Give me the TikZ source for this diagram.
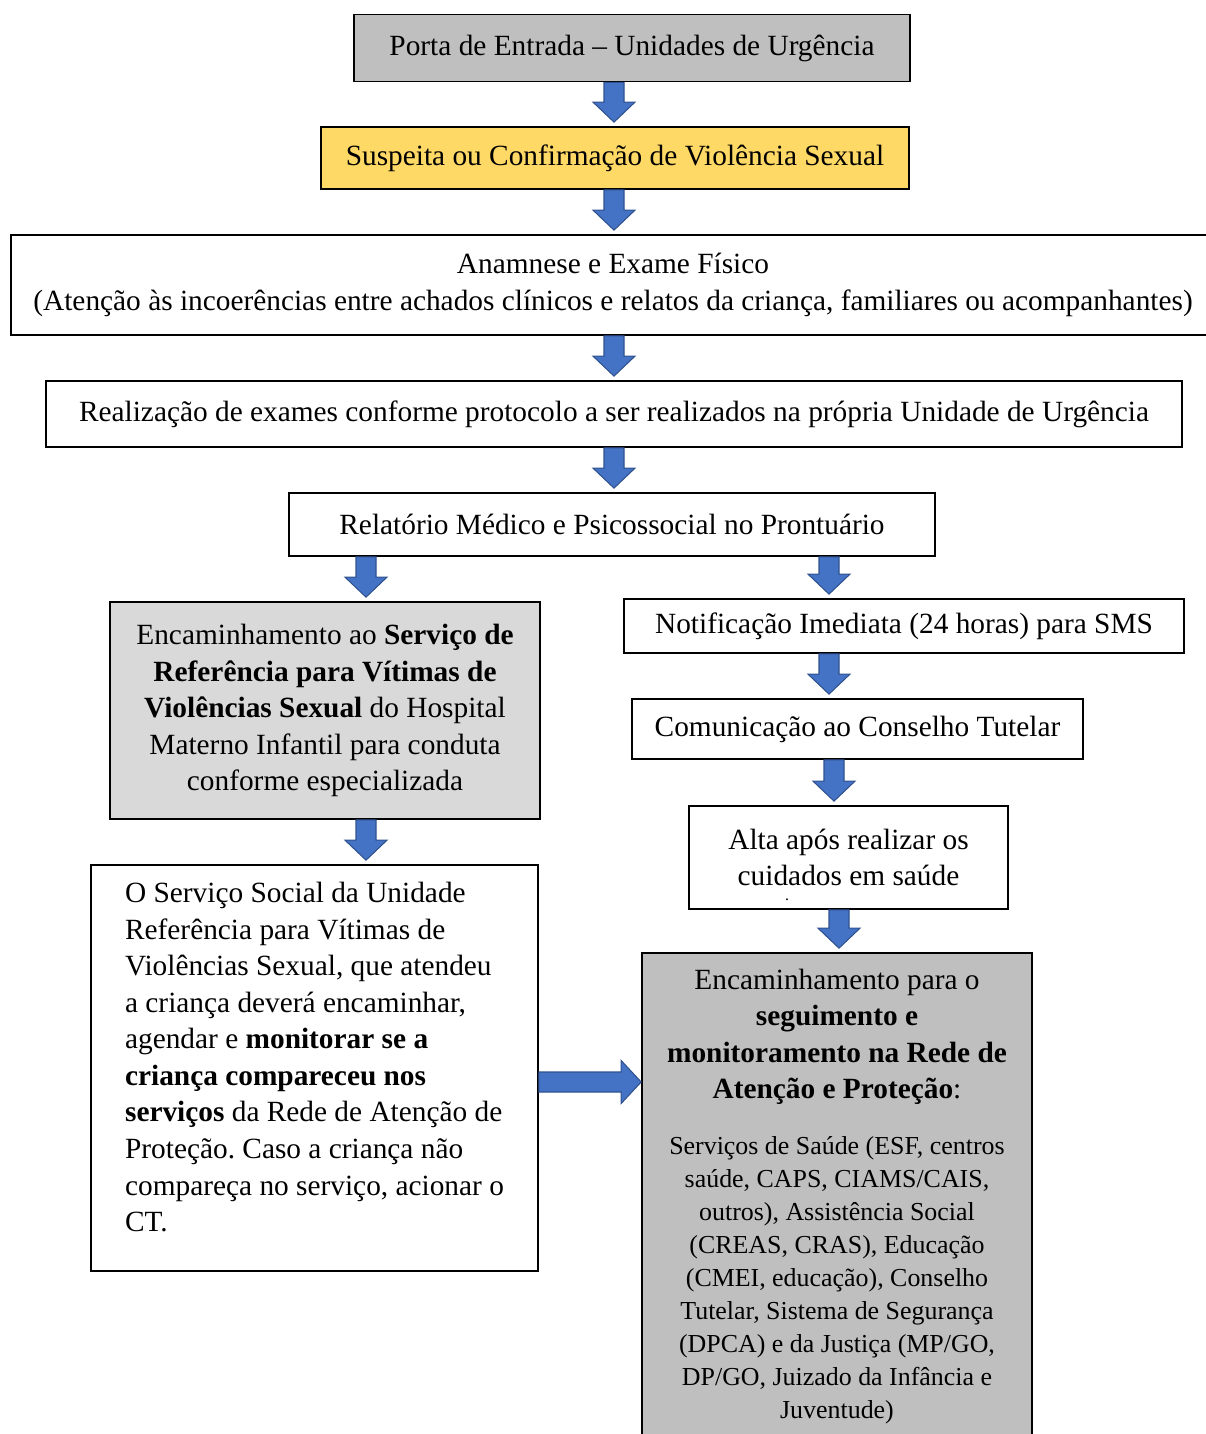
\documentclass[tikz,border=0pt]{standalone}
\usepackage{fontspec}
\setmainfont{Liberation Serif}
\usetikzlibrary{calc}

\definecolor{boxgray}{HTML}{BFBFBF}
\definecolor{boxlight}{HTML}{D9D9D9}
\definecolor{boxyellow}{HTML}{FFD966}
\definecolor{arrowblue}{HTML}{4472C4}
\definecolor{arrowedge}{HTML}{2F528F}

\newcommand{\mainsize}{\fontsize{16.7}{20.8}\selectfont\frenchspacing}
\newcommand{\smallsize}{\fontsize{14.75}{18.8}\selectfont\frenchspacing}

% block arrows between two points
\newcommand{\blkdown}[2]{%
  \filldraw[blkarrow] let \p1=(#1), \p2=(#2) in
    (\x1-0.2cm,\y1) -- (\x1-0.2cm,\y2+0.48cm) -- (\x1-0.42cm,\y2+0.48cm)
    -- (\x1,\y2+0.08cm) -- (\x1+0.42cm,\y2+0.48cm) -- (\x1+0.2cm,\y2+0.48cm)
    -- (\x1+0.2cm,\y1) -- cycle;}
\newcommand{\blkright}[2]{%
  \filldraw[blkarrow] let \p1=(#1), \p2=(#2) in
    (\x1,\y1-0.2cm) -- (\x2-0.4cm,\y1-0.2cm) -- (\x2-0.4cm,\y1-0.43cm)
    -- (\x2,\y1) -- (\x2-0.4cm,\y1+0.43cm) -- (\x2-0.4cm,\y1+0.2cm)
    -- (\x1,\y1+0.2cm) -- cycle;}

\begin{document}
\begin{tikzpicture}[x=0.02cm, y=-0.02cm,
    box/.style={draw, line width=1pt, inner sep=0pt, align=center, font=\mainsize},
    blkarrow/.style={fill=arrowblue, draw=arrowedge, line width=0.6pt, line join=miter}]
  \useasboundingbox (0,0) rectangle (1205,1434);

  % Main column
  \node[box, fill=boxgray, minimum width=11.12cm, minimum height=1.34cm] (porta) at (632,48)
    {Porta de Entrada – Unidades de Urgência};
  \node[box, fill=boxyellow, minimum width=11.76cm, minimum height=1.24cm] (susp) at (615,158)
    {Suspeita ou Confirmação de Violência Sexual};
  \node[box, minimum width=24.08cm, minimum height=2cm] (anam) at (613,285)
    {Anamnese e Exame Físico\\(Atenção às incoerências entre achados clínicos e relatos da criança, familiares ou acompanhantes)};
  \node[box, minimum width=22.72cm, minimum height=1.32cm] (real) at (614,414)
    {Realização de exames conforme protocolo a ser realizados na própria Unidade de Urgência};
  \node[box, minimum width=12.92cm, minimum height=1.26cm] (rel) at (612,524.5)
    {Relatório Médico e Psicossocial no Prontuário};

  % Left branch
  \node[box, fill=boxlight, minimum width=8.6cm, minimum height=4.34cm] (encl) at (325,710.5)
    {Encaminhamento ao \textbf{Serviço de}\\ \textbf{Referência para Vítimas de}\\
     \textbf{Violências Sexual} do Hospital\\ Materno Infantil para conduta\\ conforme especializada};
  \node[box, align=left, minimum width=8.94cm, minimum height=8.12cm] (soc) at (314.5,1068)
    {O Serviço Social da Unidade\\ Referência para Vítimas de\\ Violências Sexual, que atendeu\\
     a criança deverá encaminhar,\\ agendar e \textbf{monitorar se a}\\ \textbf{criança compareceu nos}\\
     \textbf{serviços} da Rede de Atenção de\\ Proteção. Caso a criança não\\
     compareça no serviço, acionar o\\ CT.\\[-0.29cm]};

  % Right branch
  \node[box, minimum width=11.2cm, minimum height=1.08cm] (notif) at (904,626)
    {\strut Notificação Imediata (24 horas) para SMS};
  \node[box, minimum width=9.02cm, minimum height=1.2cm] (com) at (857.5,729)
    {\strut Comunicação ao Conselho Tutelar};
  \node[box, minimum width=6.38cm, minimum height=2.06cm] (alta) at (848.5,857.5)
    {Alta após realizar os\\cuidados em saúde};
  \node[font=\fontsize{9}{10}\selectfont, inner sep=0pt] (altadot) at (787,900) {.};
  \node[box, fill=boxgray, align=flush center, text width=7.4cm, inner xsep=0.2cm, minimum height=9.74cm] (encr) at (837,1196.5)
    {Encaminhamento para o\\ \textbf{seguimento e}\\ \textbf{monitoramento na Rede de}\\
     \textbf{Atenção e Proteção}:\par\vspace{0.45cm}
     {\smallsize Serviços de Saúde (ESF, centros\\ saúde, CAPS, CIAMS/CAIS,\\ outros), Assistência Social\\
     (CREAS, CRAS), Educação\\ (CMEI, educação), Conselho\\ Tutelar, Sistema de Segurança\\
     (DPCA) e da Justiça (MP/GO,\\ DP/GO, Juizado da Infância e\\ Juventude)\par}};

  % Arrow columns
  \coordinate (mid)    at (614,0);
  \coordinate (left)   at (366,0);
  \coordinate (notifx) at (829,0);
  \coordinate (comx)   at (834,0);
  \coordinate (altax)  at (839,0);
  \coordinate (across) at (0,1082);
  \foreach \a/\b in {porta/susp, susp/anam, anam/real, real/rel}
    \blkdown{\a.south -| mid}{\b.north -| mid};
  \blkdown{rel.south -| left}{encl.north -| left};
  \blkdown{encl.south -| left}{soc.north -| left};
  \blkdown{rel.south -| notifx}{notif.north -| notifx};
  \blkdown{notif.south -| notifx}{com.north -| notifx};
  \blkdown{com.south -| comx}{alta.north -| comx};
  \blkdown{alta.south -| altax}{encr.north -| altax};
  \blkright{soc.east |- across}{encr.west |- across};
\end{tikzpicture}
\end{document}
